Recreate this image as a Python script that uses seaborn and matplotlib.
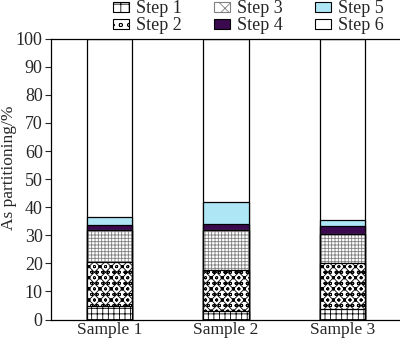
import numpy as np
import pandas as pd
import matplotlib
matplotlib.use("Agg")
import matplotlib.pyplot as plt
import seaborn as sns
from matplotlib.patches import Patch

samples = ["Sample 1", "Sample 2", "Sample 3"]
step1 = [4.7, 3.0, 3.6]
step2 = [15.8, 14.8, 16.6]
step3 = [11.2, 14.0, 10.3]
step4 = [1.8, 2.3, 2.7]
step5 = [3.0, 7.6, 2.4]
step6 = [63.5, 58.3, 64.4]
step_names = ["Step 1", "Step 2", "Step 3", "Step 4", "Step 5", "Step 6"]

sns.set_theme(style="white")
plt.rcParams["font.family"] = ["Liberation Serif", "DejaVu Serif"]
plt.rcParams["hatch.linewidth"] = 0.6

fig = plt.figure(figsize=(4.0, 3.44), dpi=100)
ax = fig.add_axes([0.1275, 0.0712, 0.875, 0.8163])

steps = [step1, step2, step3, step4, step5, step6]
cum = np.cumsum(np.array(steps), axis=0)
df = pd.DataFrame({"sample": samples})
for i in range(6):
    df[f"c{i}"] = cum[i]

styles = [
    dict(color="white", edgecolor="black", hatch="+++"),
    dict(color="white", edgecolor="black", hatch="xxxooo"),
    dict(color="white", edgecolor="#7f7f7f", hatch="+++++"),
    dict(color="#3b0a4e", edgecolor="black", hatch=None),
    dict(color="#aee6f6", edgecolor="black", hatch=None),
    dict(color="white", edgecolor="black", hatch=None),
]

w = 0.39
for i in range(5, -1, -1):
    st = styles[i]
    sns.barplot(data=df, x="sample", y=f"c{i}", ax=ax, width=w,
                color=st["color"], edgecolor=st["edgecolor"], hatch=st["hatch"],
                linewidth=0.9, saturation=1)
    if i == 2:
        sns.barplot(data=df, x="sample", y=f"c{i}", ax=ax, width=w,
                    fill=False, edgecolor="black", linewidth=0.9)

ax.set_ylim(0, 100)
ax.set_xlim(-0.5, 2.5)
ax.set_yticks(range(0, 101, 10))
ax.set_xlabel("")
ax.set_ylabel("As partitioning/%", fontsize=12.5)
ax.yaxis.set_label_coords(-0.096, 0.54)
ax.tick_params(axis="y", direction="out", length=4, width=0.8, labelsize=13, pad=2, left=True)
ax.tick_params(axis="x", length=0, labelsize=12.5, pad=2)
for s in ax.spines.values():
    s.set_color("black")
    s.set_linewidth(0.9)

handles = []
for i in range(6):
    st = styles[i]
    hatch = {0: "++", 1: "oo", 2: "xx"}.get(i, None)
    handles.append(Patch(facecolor=st["color"], edgecolor=st["edgecolor"],
                         hatch=hatch, linewidth=0.8, label=step_names[i]))
fig.legend(handles=handles, ncol=3, loc="upper left", bbox_to_anchor=(0.265, 1.02),
           frameon=False, fontsize=13, handlelength=0.9, handleheight=0.5,
           handletextpad=0.35, columnspacing=1.8, labelspacing=0.0, borderaxespad=0)

fig.savefig("out.png", dpi=100)
